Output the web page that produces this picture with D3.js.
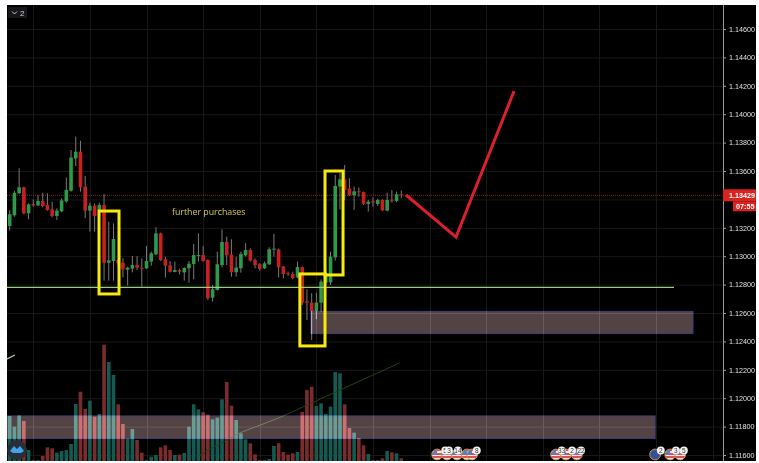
<!DOCTYPE html>
<html><head><meta charset="utf-8">
<style>html,body{margin:0;padding:0;background:#fff;overflow:hidden}svg{display:block;filter:blur(0.45px)}
.zone{mix-blend-mode:plus-lighter}</style>
<script src="https://cdn.jsdelivr.net/npm/d3@7"></script></head><body>
<script>
// [open, high, low, close] in 1e-5 price units
const ohlc = [
[113213,113325,113180,113295],[113288,113461,113278,113447],[113443,113619,113438,113485],[113485,113490,113295,113302],
[113302,113372,113260,113365],[113368,113400,113349,113358],[113358,113431,113353,113389],[113389,113447,113344,113353],
[113361,113443,113321,113325],[113330,113384,113274,113283],[113283,113337,113255,113321],[113316,113407,113311,113393],
[113386,113555,113377,113466],[113461,113748,113454,113694],[113689,113842,113635,113736],[113736,113813,113454,113485],
[113490,113565,113267,113321],[113321,113377,113173,113356],[113356,113372,113173,113283],[113325,113377,113302,113361],
[113361,113438,112828,112954],[112954,113243,112828,112971],[112966,113231,112828,113121],[112973,112985,112926,112950],
[112954,112985,112851,112908],[112905,112926,112793,112919],[112912,113001,112886,112938],[112938,113001,112903,112919],
[112919,112985,112785,112915],[112915,113072,112910,112966],[112962,113032,112933,113020],[113013,113203,113006,113161],
[113161,113166,112966,112973],[112978,112997,112849,112933],[112936,112966,112886,112891],[112889,112962,112886,112903],
[112901,112912,112872,112891],[112886,112922,112828,112917],[112915,112966,112814,112947],[112945,113086,112837,113008],
[113004,113161,112962,113008],[113008,113072,112962,112966],[112973,112978,112692,112704],[112708,112797,112680,112767],
[112762,113032,112758,112943],[112938,113189,112922,113100],[113100,113138,112938,113006],[113011,113119,112856,112887],
[112887,112997,112856,112920],[112915,113032,112884,113016],[113006,113091,112997,113044],[113044,113056,112962,112969],
[112973,112985,112915,112938],[112943,112950,112898,112910],[112915,112962,112910,112950],[112943,113063,112938,113049],
[113046,113157,112997,113053],[113046,113053,112851,112922],[112927,112931,112844,112875],[112880,112891,112861,112873],
[112875,112891,112837,112847],[112851,112962,112844,112924],[112922,112927,112657,112673],[112682,112767,112551,112673],
[112673,112739,112410,112614],[112614,112743,112556,112673],[112673,112837,112610,112821],[112814,112903,112797,112880],
[112816,113032,112797,112997],[112992,113572,112969,113495],[113490,113588,113330,113541],[113541,113642,113396,113466],
[113476,113549,113424,113429],[113429,113490,113326,113457],[113457,113485,113419,113452],[113452,113455,113361,113368],
[113368,113396,113314,113384],[113387,113415,113349,113377],[113368,113405,113354,113396],[113396,113401,113318,113323],
[113321,113448,113316,113396],[113398,113466,113377,113394],[113389,113455,113380,113436],[113436,113462,113408,113431]
];
const volumes = [135,103,137,120,33,3,3,15,41,38,25,30,33,51,171,208,156,181,133,141,349,297,258,170,111,67,96,63,25,3,13,18,41,47,33,18,19,24,103,170,155,147,139,125,130,185,237,166,123,83,65,53,20,3,3,6,45,53,27,19,23,27,147,213,223,165,173,141,163,267,263,170,99,85,69,47,21,3,3,8,30,26,23,8];
const priceTicks = [1.146,1.144,1.142,1.14,1.138,1.136,1.132,1.13,1.128,1.126,1.124,1.122,1.12,1.118,1.116];
const gridBars = [5,17,29,41,53,65,77,89,101,113,125,137,149];
const lastPrice = 1.13429;
const countdown = "07:55";
const supportPrice = 1.1278, supportEnd = 140.8;
const yellowBoxes = [[18.93,23.17,1.13318,1.12734],[61.5,66.83,1.12875,1.12368],[66.83,70.65,1.136,1.12868]];
const zones = [[63.86,144.83,1.12611,1.12455],[-0.57,136.8,1.11875,1.11717]];
const forecast = [[84,1.13431],[94.6,1.13135],[106.9,1.14163]];
const maLine = [[40.2,18],[48.7,84],[57,129],[64,174],[70,213],[82.6,294]];
const maStub = [[-0.57,306],[1.1,318]];
const noteText = "further purchases";
const noteAt = [34.4,1.1329];
const usFlags = [90.6,92.7,94.8,96.9,98,115.8,117.9,120.2,140,142.1];
const euFlags = [136.8];
const eventLabels = [[92.3,"5"],[93.1,"3"],[95,"14"],[99,"8"],[117,"33"],[119.2,"2"],[121.1,"22"],[138,"2"],[141.2,"3"],[142.9,"5"]];

const W=759,H=463,L=7,T=5,R=756,B=461,AX=723;
const x=d3.scaleLinear().domain([0,83]).range([9.7,401.3]);
const y=d3.scaleLinear().domain([1.116,1.146]).range([455,29]);
const pv=v=>y(v/1e5);
const vy=d3.scaleLinear().domain([0,360]).range([461,341]);
const svg=d3.select("body").append("svg").attr("width",W).attr("height",H);
const defs=svg.append("defs");
defs.append("clipPath").attr("id","pane").append("rect").attr("x",L).attr("y",T).attr("width",AX-L).attr("height",B-T);
const stripe=defs.append("linearGradient").attr("id","usa").attr("x1",0).attr("x2",0).attr("y1",0).attr("y2",1);
[0,1,2,3,4,5].forEach(i=>{const c=i%2?"#eeeeee":"#d8505a";
 stripe.append("stop").attr("offset",i/6).attr("stop-color",c);stripe.append("stop").attr("offset",(i+1)/6).attr("stop-color",c);});
svg.append("rect").attr("x",L).attr("y",T).attr("width",R-L).attr("height",B-T).attr("fill","#000");
const g=svg.append("g").attr("clip-path","url(#pane)");
// grid
g.selectAll(".gh").data(priceTicks.concat([1.134])).join("line").attr("x1",L).attr("x2",AX).attr("y1",d=>y(d)+.5).attr("y2",d=>y(d)+.5).attr("stroke","#171717");
g.selectAll(".gv").data(gridBars).join("line").attr("x1",d=>Math.round(x(d))+.5).attr("x2",d=>Math.round(x(d))+.5).attr("y1",T).attr("y2",B).attr("stroke","#171717");
// volume
const bw=3.6;
g.selectAll(".vol").data(volumes).join("rect").attr("x",(d,i)=>x(i)-bw/2).attr("width",bw).attr("y",d=>vy(d)).attr("height",d=>vy(0)-vy(d))
 .attr("fill",(d,i)=>ohlc[i][3]>=ohlc[i][0]?"#155a50":"#7a2c2c");
const line=d3.line().x(d=>x(d[0])).y(d=>vy(d[1]));
g.append("path").attr("d",line(maLine)).attr("fill","none").attr("stroke","#233f17").attr("stroke-width",1);
g.append("path").attr("d",line(maStub)).attr("fill","none").attr("stroke","#b5d6a0").attr("stroke-width",1.2);
// last price line
g.append("line").attr("x1",L).attr("x2",AX).attr("y1",y(lastPrice)).attr("y2",y(lastPrice)).attr("stroke","#8a2222").attr("stroke-dasharray","1 1");
// candles
g.selectAll(".wick").data(ohlc).join("line").attr("x1",(d,i)=>x(i)).attr("x2",(d,i)=>x(i)).attr("y1",d=>pv(d[1])).attr("y2",d=>pv(d[2])).attr("stroke","#7a7a7a").attr("stroke-width",1);
g.selectAll(".body").data(ohlc).join("rect").attr("x",(d,i)=>x(i)-bw/2).attr("width",bw)
 .attr("y",d=>pv(Math.max(d[0],d[3]))).attr("height",d=>Math.max(1,pv(Math.min(d[0],d[3]))-pv(Math.max(d[0],d[3]))))
 .attr("fill",d=>d[3]>=d[0]?"#2c9a48":"#c8201f");
// zones
g.selectAll(".zone").data(zones).join("rect").attr("class","zone").attr("x",d=>x(d[0])).attr("width",d=>x(d[1])-x(d[0])).attr("y",d=>y(d[2])).attr("height",d=>y(d[3])-y(d[2]))
 .attr("fill","#544345").attr("stroke","#3f3f78").attr("stroke-width",1);
// support
g.append("line").attr("x1",L).attr("x2",x(supportEnd)).attr("y1",y(supportPrice)).attr("y2",y(supportPrice)).attr("stroke","#9ccc80").attr("stroke-width",1.3);
// yellow boxes
g.selectAll(".yb").data(yellowBoxes).join("rect").attr("x",d=>x(d[0])).attr("width",d=>x(d[1])-x(d[0])).attr("y",d=>y(d[2])).attr("height",d=>y(d[3])-y(d[2]))
 .attr("fill","none").attr("stroke","#f6ea10").attr("stroke-width",3);
// forecast
g.append("path").attr("d",d3.line().x(d=>x(d[0])).y(d=>y(d[1]))(forecast)).attr("fill","none").attr("stroke","#dc1f2b").attr("stroke-width",3);
g.append("text").attr("x",x(noteAt[0])).attr("y",y(noteAt[1])).attr("fill","#d8c94c").attr("font-family","'Open Sans',sans-serif").attr("font-size",8.8).text(noteText);
// events
const flagY=454.5;
g.selectAll(".us").data(usFlags).join("circle").attr("cx",d=>x(d)).attr("cy",flagY).attr("r",5.4).attr("fill","url(#usa)").attr("stroke","#d0913a");
g.selectAll(".usc").data(usFlags).join("path").attr("transform",d=>`translate(${x(d)},${flagY})`).attr("d",d3.arc()({innerRadius:0,outerRadius:4.8,startAngle:-Math.PI/2,endAngle:0})).attr("fill","#5a7fc0");
g.selectAll(".eu").data(euFlags).join("circle").attr("cx",d=>x(d)).attr("cy",flagY).attr("r",5.4).attr("fill","#34509a").attr("stroke","#d0913a");
const ev=g.selectAll(".ev").data(eventLabels).join("g").attr("transform",d=>`translate(${x(d[0])},450.5)`);
ev.append("circle").attr("r",3.9).attr("fill","#f2f2f2");
ev.append("text").attr("text-anchor","middle").attr("y",2.3).attr("font-size",6.5).attr("font-family","'Liberation Sans',sans-serif").attr("fill","#333").text(d=>d[1]);
// axis
const axis=svg.append("g").attr("transform",`translate(${AX},0)`).call(d3.axisRight(y).tickValues(priceTicks).tickSize(3).tickPadding(3).tickFormat(d3.format(".5f")));
axis.select(".domain").attr("stroke","#9a9a9a").attr("d",`M0.5,${T}V${B}`);
axis.selectAll(".tick line").attr("stroke","#9a9a9a");
axis.selectAll("text").attr("fill","#e0e0e0").attr("font-size",7.2).attr("font-family","'Liberation Sans',sans-serif");
// price tags
const ly=y(lastPrice);
svg.append("rect").attr("x",AX).attr("y",ly-6).attr("width",R-AX).attr("height",12).attr("fill","#d9231f");
svg.append("text").attr("x",AX+6).attr("y",ly+2.6).attr("fill","#fff").attr("font-size",7.2).attr("font-weight","bold").attr("font-family","'Liberation Sans',sans-serif").text(d3.format(".5f")(lastPrice));
svg.append("rect").attr("x",733).attr("y",ly+6).attr("width",R-733).attr("height",10).attr("fill","#d9231f");
svg.append("text").attr("x",736).attr("y",ly+13.5).attr("fill","#fff").attr("font-size",7.2).attr("font-weight","bold").attr("font-family","'Liberation Sans',sans-serif").text(countdown);
// chrome
svg.append("rect").attr("x",8).attr("y",7).attr("width",19).attr("height",11).attr("fill","#15151a");
svg.append("path").attr("d","M12,11.5l2.5,2.5l2.5,-2.5").attr("fill","none").attr("stroke","#c8c8c8");
svg.append("text").attr("x",20).attr("y",15.5).attr("fill","#d0d0d0").attr("font-size",8).attr("font-family","'Liberation Sans',sans-serif").text("2");
svg.append("circle").attr("cx",17).attr("cy",450).attr("r",10).attr("fill","#2a2e39");
svg.append("path").attr("d","M10,451l4,-5l3,3l3,-3l4,5l-3,2h-8z").attr("fill","#3fa3ee");
</script></body></html>
